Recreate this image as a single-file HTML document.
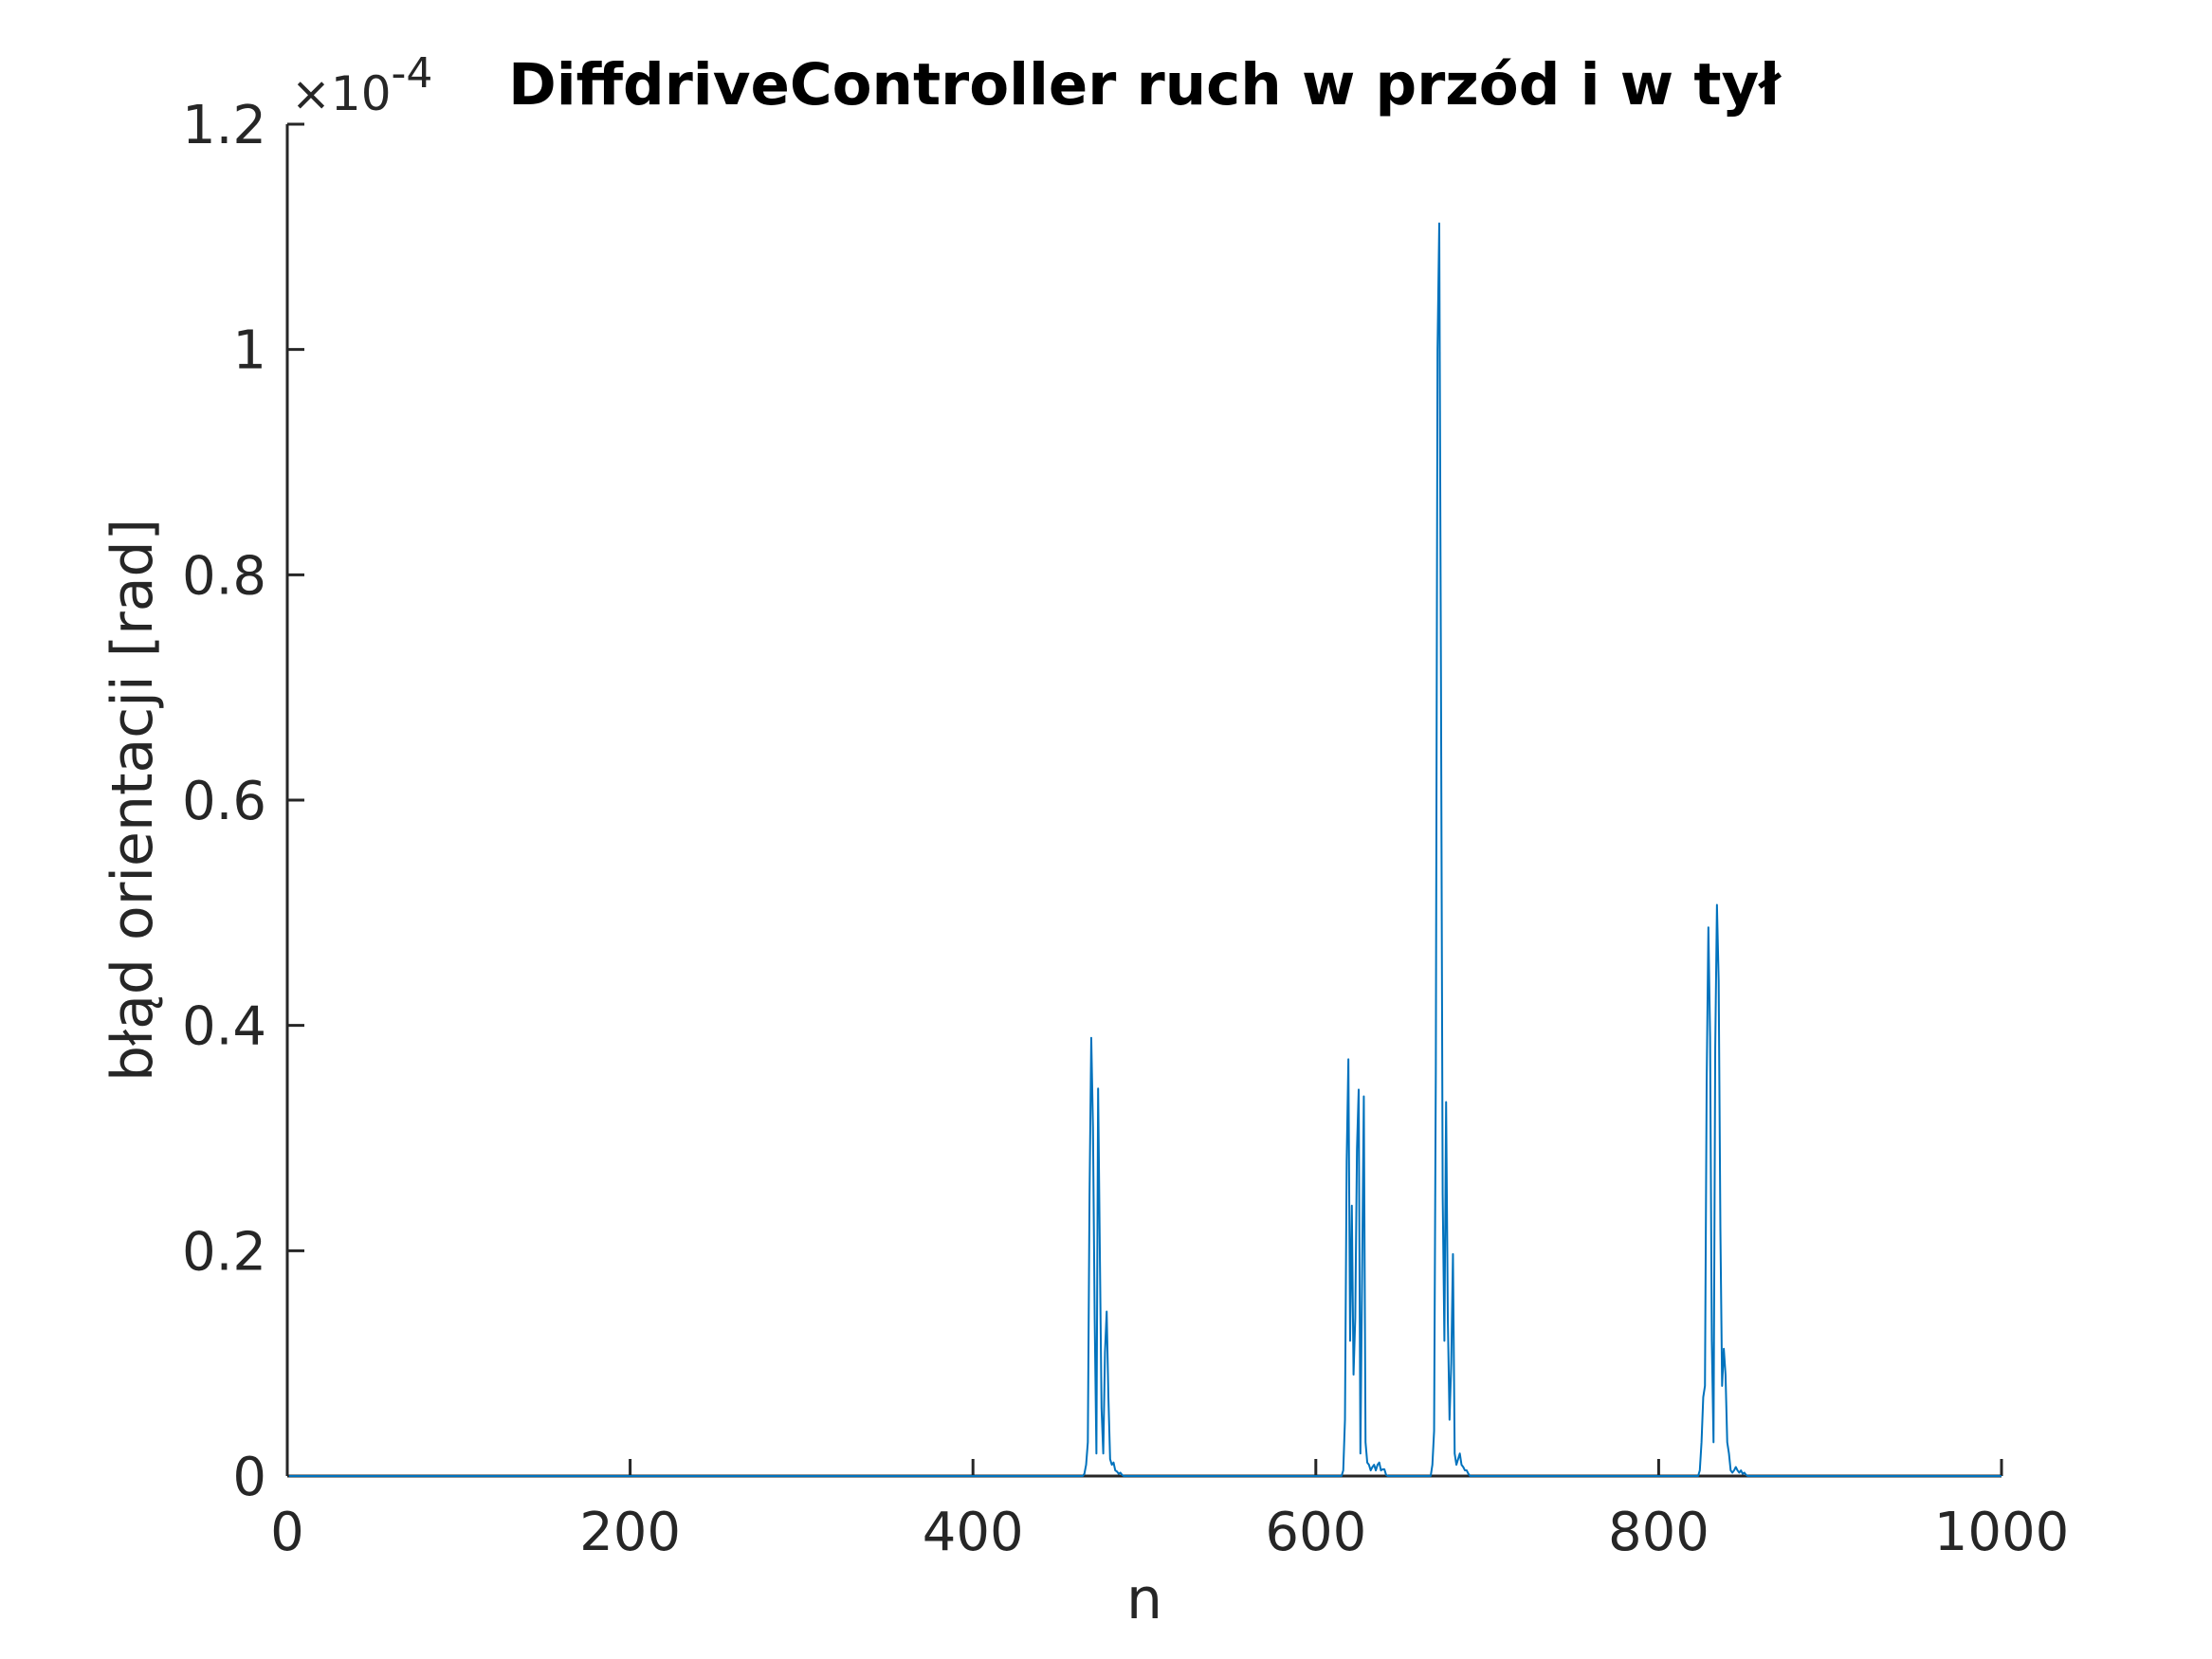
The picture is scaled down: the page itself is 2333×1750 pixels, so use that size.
<!DOCTYPE html>
<html><head><meta charset="utf-8">
<style>
html,body{margin:0;padding:0;background:#fff;}
svg{display:block;}
text{font-family:"DejaVu Sans","Liberation Sans",sans-serif;fill:#262626;}
</style></head>
<body>
<svg id="chart" width="2333" height="1750" viewBox="0 0 2333 1750" xmlns="http://www.w3.org/2000/svg">
<rect width="2333" height="1750" fill="#fff"/>
<g id="axes"></g>
<path id="series" fill="none" stroke="#0072BD" stroke-width="2" stroke-linejoin="round"/>
<text x="1207" y="110" text-anchor="middle" font-size="61" font-weight="bold" style="fill:#000">DiffdriveController ruch w przód i w tył</text>
<text x="307" y="116" font-size="50">×10<tspan dy="-24" font-size="44">-4</tspan></text>
<text x="1207" y="1707" text-anchor="middle" font-size="60">n</text>
<text transform="translate(160,844) rotate(-90)" text-anchor="middle" font-size="60">błąd orientacji [rad]</text>
</svg>
<script>
const xTicks = [0, 200, 400, 600, 800, 1000];
const yTicks = [0, 0.2, 0.4, 0.6, 0.8, 1, 1.2];
const yTickLabels = ["0", "0.2", "0.4", "0.6", "0.8", "1", "1.2"];
const nCount = 1000;
// peak clusters: start sample index and values (units of 1e-4 rad)
const clusterStarts = [465, 616, 668, 824];
const cluster1 = [0.002,0.01,0.03,0.25,0.389,0.31,0.14,0.02,0.344,0.2,0.06,0.02,0.11,0.146,0.07,0.015,0.01,0.012,0.005,0.004,0.002,0.003,0.001];
const cluster2 = [0.005,0.05,0.28,0.370,0.12,0.24,0.09,0.14,0.29,0.343,0.02,0.18,0.337,0.03,0.012,0.01,0.005,0.008,0.01,0.005,0.01,0.012,0.005,0.006,0.006,0.001];
const cluster3 = [0.01,0.04,0.36,1.0,1.112,0.71,0.25,0.12,0.332,0.14,0.05,0.1,0.197,0.02,0.01,0.015,0.02,0.01,0.008,0.005,0.005,0.002];
const cluster4 = [0.005,0.03,0.07,0.08,0.35,0.487,0.39,0.12,0.03,0.38,0.507,0.44,0.22,0.08,0.113,0.09,0.03,0.02,0.005,0.003,0.005,0.008,0.005,0.003,0.005,0.002,0.003,0.001];
const clusters = [cluster1, cluster2, cluster3, cluster4];

const L=303,R=2111,T=131,B=1557;
const xMin=0,xMax=1000,yMin=0,yMax=1.2;
const sx=v=>L+(v-xMin)/(xMax-xMin)*(R-L);
const sy=v=>B-(v-yMin)/(yMax-yMin)*(B-T);
const NS="http://www.w3.org/2000/svg";
const axes=document.getElementById('axes');
function mk(tag,attrs){const e=document.createElementNS(NS,tag);for(const k in attrs)e.setAttribute(k,attrs[k]);return e;}

const yl=mk('line',{x1:L,y1:T,x2:L,y2:B,stroke:'#262626','stroke-width':3});


axes.appendChild(yl);
const xl=mk('line',{x1:L,y1:B,x2:R,y2:B,stroke:'#262626','stroke-width':3});


axes.appendChild(xl);

xTicks.forEach(v=>{
  const t=mk('line',{x1:sx(v),y1:B,x2:sx(v),y2:B-18,stroke:'#262626','stroke-width':3});
  
  
  axes.appendChild(t);
  const lb=mk('text',{x:sx(v),y:B+78,'text-anchor':'middle','font-size':56});
  lb.textContent=String(v);
  
  
  axes.appendChild(lb);
});
yTicks.forEach((v,i)=>{
  const t=mk('line',{x1:L,y1:sy(v),x2:L+18,y2:sy(v),stroke:'#262626','stroke-width':3});
  
  
  axes.appendChild(t);
  const lb=mk('text',{x:L-22,y:sy(v)+20,'text-anchor':'end','font-size':56});
  lb.textContent=yTickLabels[i];
  
  
  axes.appendChild(lb);
});

const values=new Array(nCount+1).fill(0);
clusters.forEach((c,ci)=>{c.forEach((v,j)=>{values[clusterStarts[ci]+j]=v;});});
let d='';
for(let n=1;n<=nCount;n++){d+=(n===1?'M':'L')+sx(n).toFixed(2)+','+sy(values[n]).toFixed(2);}
document.getElementById('series').setAttribute('d',d);
</script>
</body></html>
